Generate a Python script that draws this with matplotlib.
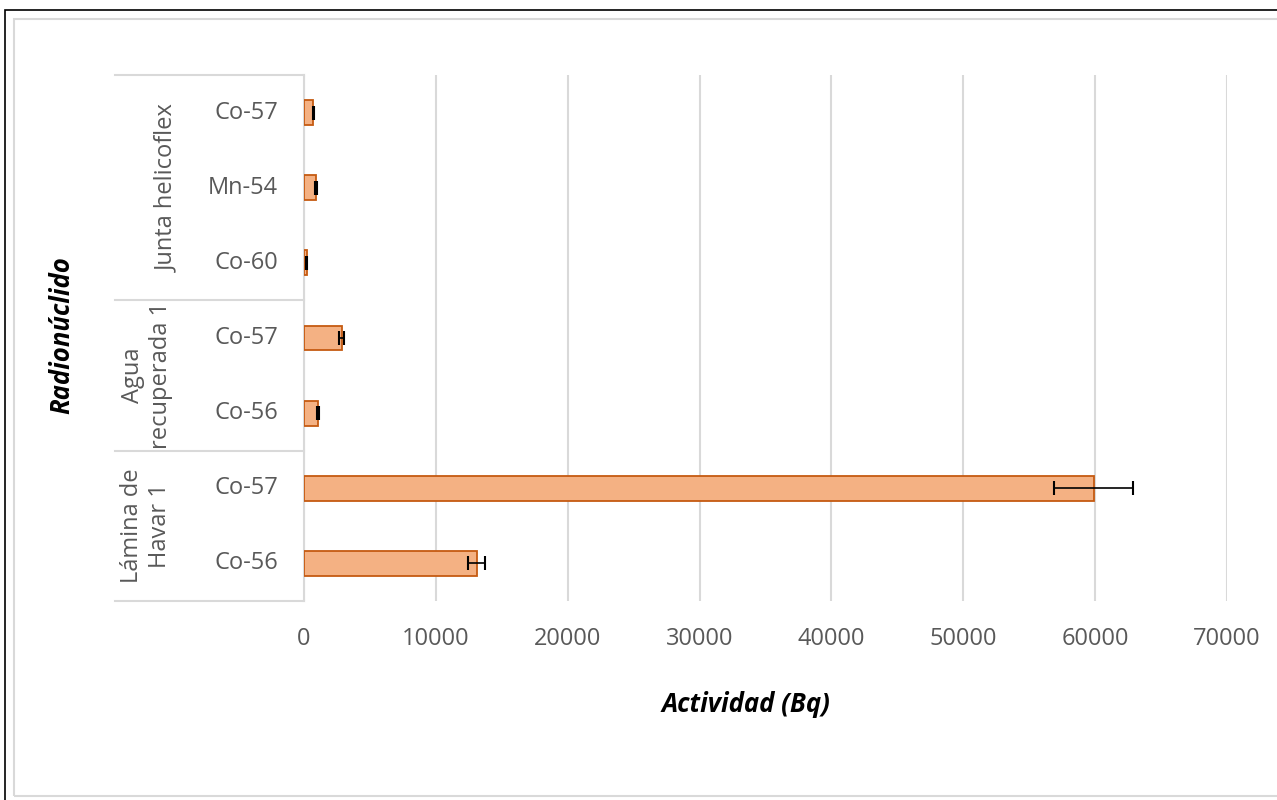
import matplotlib
matplotlib.use("Agg")
import matplotlib.pyplot as plt
from matplotlib.patches import Rectangle
from matplotlib.transforms import blended_transform_factory

# Activity per radionuclide, bottom to top
groups = ["Lámina de\nHavar 1", "Agua\nrecuperada 1", "Junta helicoflex"]
group_sizes = [2, 2, 3]
nuclides = ["Co-56", "Co-57", "Co-56", "Co-57", "Co-60", "Mn-54", "Co-57"]
activity = [13100, 59900, 1050, 2870, 190, 890, 710]
uncertainty = [650, 3000, 60, 200, 50, 60, 50]
x_ticks = [0, 10000, 20000, 30000, 40000, 50000, 60000, 70000]

W, H = 1277, 800
plt.rcParams["font.family"] = ["Open Sans", "DejaVu Sans"]
fig = plt.figure(figsize=(W / 100, H / 100), dpi=100)
fig.patch.set_facecolor("white")

# frames around the chart
fig.patches.append(Rectangle((5 / W, -0.05), 1.05, 1 - 10 / H + 0.05, transform=fig.transFigure,
                             fill=False, edgecolor="black", linewidth=1.2))
fig.patches.append(Rectangle((14 / W, 1 - 796 / H), 1.05, (796 - 19) / H, transform=fig.transFigure,
                             fill=False, edgecolor="#D9D9D9", linewidth=1.5))

left, right, top, bottom = 304, 1227, 75, 601
ax = fig.add_axes([left / W, 1 - bottom / H, (right - left) / W, (bottom - top) / H])

grey_text = "#595959"
grid_col = "#D9D9D9"
pos = list(range(len(activity)))

ax.barh(pos, activity, height=0.33, color="#F4B183", edgecolor="#C55A11", linewidth=1.3, zorder=3)
ax.errorbar(activity, pos, xerr=uncertainty, fmt="none", ecolor="black", elinewidth=1.2,
            capsize=4.7, capthick=1.5, zorder=4)

ax.set_xlim(x_ticks[0], x_ticks[-1])
ax.set_ylim(-0.5, len(activity) - 0.5)
ax.set_xticks(x_ticks)
ax.set_xticklabels([str(t) for t in x_ticks], fontsize=17, color=grey_text)
ax.tick_params(axis="x", length=0, pad=19)
ax.set_yticks([])
ax.grid(axis="x", color=grid_col, linewidth=1.5, zorder=0)
ax.set_axisbelow(True)
for s in ["top", "right", "bottom"]:
    ax.spines[s].set_visible(False)
ax.spines["left"].set_color(grid_col)
ax.spines["left"].set_linewidth(1.5)

# category table on the left
tr = blended_transform_factory(fig.transFigure, ax.transData)
for i, name in enumerate(nuclides):
    ax.text(278 / W, i, name, transform=tr, ha="right", va="center", fontsize=17, color=grey_text)

bounds = [-0.5]
for n in group_sizes:
    bounds.append(bounds[-1] + n)
for b in bounds:
    ax.plot([115 / W, left / W], [b, b], transform=tr, color=grid_col, linewidth=1.5, clip_on=False)

group_x = [146, 147, 167]
for g, lo, hi, gx in zip(groups, bounds[:-1], bounds[1:], group_x):
    ax.text(gx / W, (lo + hi) / 2, g, transform=tr, rotation=90, ha="center", va="center",
            multialignment="center", fontsize=17, color=grey_text, linespacing=1.2)

fig.text(746 / W, 1 - 705 / H, "Actividad (Bq)", ha="center", va="center", fontsize=18.5,
         fontweight="bold", fontstyle="italic", color="black")
fig.text(62 / W, 1 - 335 / H, "Radionúclido", ha="center", va="center", rotation=90, fontsize=18.5,
         fontweight="bold", fontstyle="italic", color="black")

fig.savefig("out.png", dpi=100)
